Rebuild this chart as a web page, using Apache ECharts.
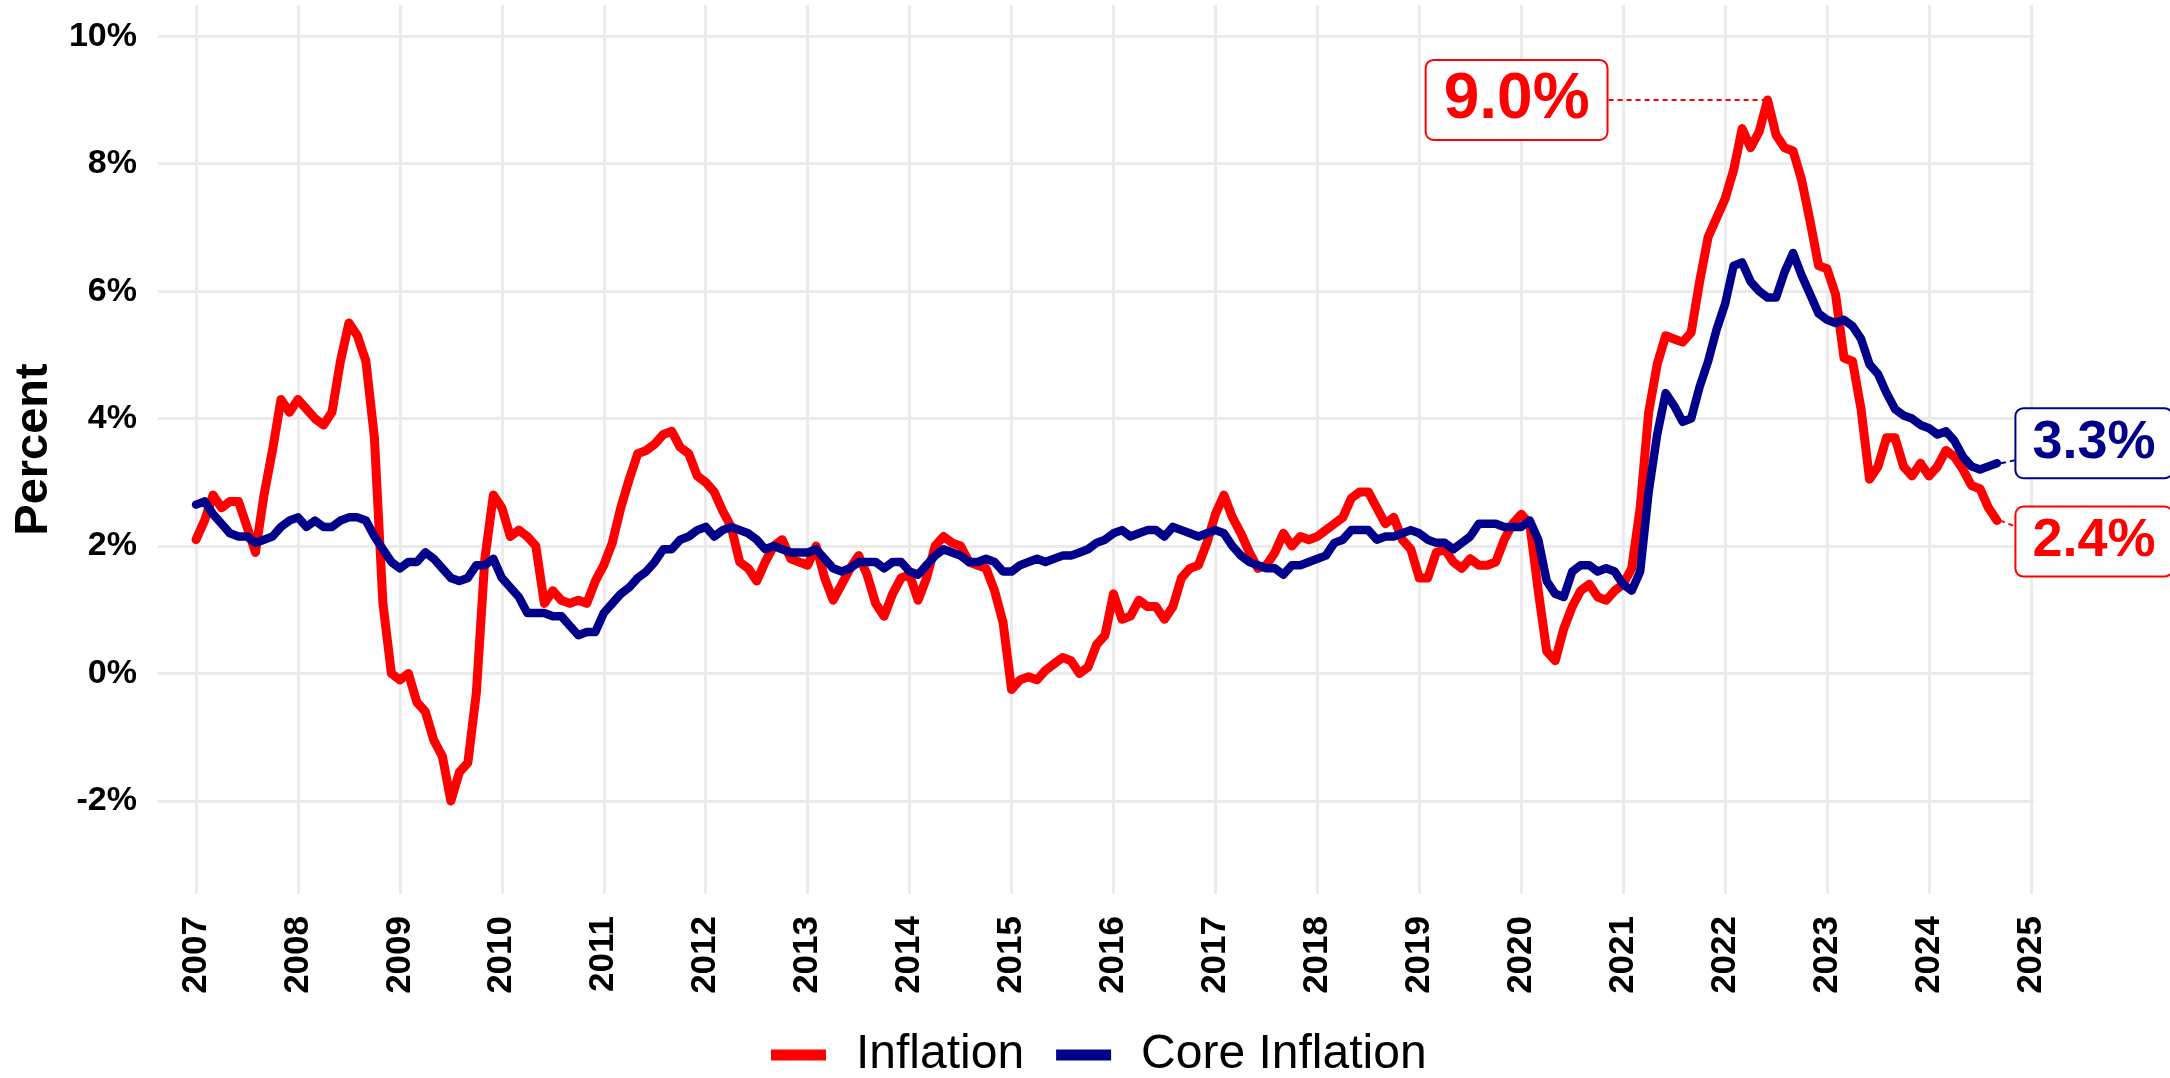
<!DOCTYPE html>
<html>
<head>
<meta charset="utf-8">
<script src="https://cdn.jsdelivr.net/npm/echarts@6/dist/echarts.min.js"></script>
<style>
  html, body { margin: 0; padding: 0; background: #fff; }
  #chart { width: 2170px; height: 1078px; }
</style>
</head>
<body>
<div id="chart"></div>
<script>
// monthly year-over-year rates, Jan 2007 .. Sep 2024
const startYear = 2007;

const inflation = [
  2.1, 2.4, 2.8, 2.6, 2.7, 2.7, 2.3, 1.9, 2.8, 3.5, 4.3, 4.1,
  4.3, 4.15, 4.0, 3.9, 4.1, 4.9, 5.5, 5.3, 4.9, 3.7, 1.1, 0.0,
  -0.1, 0.0, -0.45, -0.6, -1.05, -1.3, -2.0, -1.55, -1.4, -0.3, 1.8, 2.8,
  2.6, 2.15, 2.25, 2.15, 2.0, 1.1, 1.3, 1.15, 1.1, 1.15, 1.1, 1.45,
  1.7, 2.05, 2.6, 3.05, 3.45, 3.5, 3.6, 3.75, 3.8, 3.55, 3.45, 3.1,
  3.0, 2.85, 2.55, 2.3, 1.75, 1.65, 1.45, 1.75, 2.0, 2.1, 1.8, 1.75,
  1.7, 2.0, 1.5, 1.15, 1.4, 1.65, 1.85, 1.55, 1.1, 0.9, 1.25, 1.5,
  1.55, 1.15, 1.5, 2.0, 2.15, 2.05, 2.0, 1.75, 1.7, 1.65, 1.3, 0.8,
  -0.25, -0.1, -0.05, -0.1, 0.05, 0.15, 0.25, 0.2, 0.0, 0.1, 0.45, 0.6,
  1.25, 0.85, 0.9, 1.15, 1.05, 1.05, 0.85, 1.05, 1.5, 1.65, 1.7, 2.05,
  2.5, 2.8, 2.45, 2.2, 1.9, 1.65, 1.7, 1.9, 2.2, 2.0, 2.15, 2.1,
  2.15, 2.25, 2.35, 2.45, 2.75, 2.85, 2.85, 2.6, 2.35, 2.45, 2.1, 1.95,
  1.5, 1.5, 1.9, 1.95, 1.75, 1.65, 1.8, 1.7, 1.7, 1.75, 2.1, 2.35,
  2.5, 2.35, 1.3, 0.35, 0.2, 0.7, 1.05, 1.3, 1.4, 1.2, 1.15, 1.3,
  1.4, 1.65, 2.6, 4.1, 4.85, 5.3, 5.25, 5.2, 5.35, 6.15, 6.85, 7.15,
  7.45, 7.9, 8.55, 8.25, 8.5, 9.0, 8.45, 8.25, 8.2, 7.75, 7.1, 6.4,
  6.35, 5.95, 4.95, 4.9, 4.15, 3.05, 3.25, 3.7, 3.7, 3.25, 3.1, 3.3,
  3.1, 3.25, 3.5, 3.4, 3.2, 2.95, 2.9, 2.6, 2.4
];

const coreInflation = [
  2.65, 2.7, 2.5, 2.35, 2.2, 2.15, 2.15, 2.05, 2.1, 2.15, 2.3, 2.4,
  2.45, 2.3, 2.4, 2.3, 2.3, 2.4, 2.45, 2.45, 2.4, 2.15, 1.95, 1.75,
  1.65, 1.75, 1.75, 1.9, 1.8, 1.65, 1.5, 1.45, 1.5, 1.7, 1.7, 1.8,
  1.5, 1.35, 1.2, 0.95, 0.95, 0.95, 0.9, 0.9, 0.75, 0.6, 0.65, 0.65,
  0.95, 1.1, 1.25, 1.35, 1.5, 1.6, 1.75, 1.95, 1.95, 2.1, 2.15, 2.25,
  2.3, 2.15, 2.25, 2.3, 2.25, 2.2, 2.1, 1.95, 2.0, 1.95, 1.9, 1.9,
  1.9, 1.95, 1.8, 1.65, 1.6, 1.65, 1.75, 1.75, 1.75, 1.65, 1.75, 1.75,
  1.6, 1.55, 1.7, 1.85, 1.95, 1.9, 1.85, 1.75, 1.75, 1.8, 1.75, 1.6,
  1.6, 1.7, 1.75, 1.8, 1.75, 1.8, 1.85, 1.85, 1.9, 1.95, 2.05, 2.1,
  2.2, 2.25, 2.15, 2.2, 2.25, 2.25, 2.15, 2.3, 2.25, 2.2, 2.15, 2.2,
  2.25, 2.2, 2.0, 1.85, 1.75, 1.7, 1.65, 1.65, 1.55, 1.7, 1.7, 1.75,
  1.8, 1.85, 2.05, 2.1, 2.25, 2.25, 2.25, 2.1, 2.15, 2.15, 2.2, 2.25,
  2.2, 2.1, 2.05, 2.05, 1.95, 2.05, 2.15, 2.35, 2.35, 2.35, 2.3, 2.3,
  2.3, 2.4, 2.1, 1.45, 1.25, 1.2, 1.6, 1.7, 1.7, 1.6, 1.65, 1.6,
  1.4, 1.3, 1.6, 2.85, 3.75, 4.4, 4.2, 3.95, 4.0, 4.5, 4.9, 5.4,
  5.8, 6.4, 6.45, 6.15, 6.0, 5.9, 5.9, 6.3, 6.6, 6.25, 5.95, 5.65,
  5.55, 5.5, 5.55, 5.45, 5.25, 4.85, 4.7, 4.4, 4.15, 4.05, 4.0, 3.9,
  3.85, 3.75, 3.8, 3.65, 3.4, 3.25, 3.2, 3.25, 3.3
];

const yearTicks = [2007, 2008, 2009, 2010, 2011, 2012, 2013, 2014, 2015,
  2016, 2017, 2018, 2019, 2020, 2021, 2022, 2023, 2024, 2025];
const percentTicks = [-2, 0, 2, 4, 6, 8, 10];

const RED = '#FF0000';
const NAVY = '#00008B';
const FONT = '"Liberation Sans", Arial, sans-serif';

// x position of each month as a decimal year
const dates = inflation.map((_, i) => startYear + i / 12);

const peakIdx = inflation.indexOf(Math.max(...inflation));
const lastIdx = inflation.length - 1;

const dotted = color => ({ color: color, width: 2, type: [5, 4], opacity: 1 });

// boxed value label; leader is either the label guide line or a short
// dotted stub (gap, len in years, drop in %) drawn with markLine
function note(x, y, color, size, dx, dy, pad, stub) {
  const s = {
    type: 'scatter',
    data: [[x, y]],
    symbolSize: 2,
    itemStyle: { color: color, opacity: 1 },
    silent: true,
    z: 10,
    label: {
      show: true,
      position: 'inside',
      formatter: p => p.value[1].toFixed(1) + '%',
      color: color,
      fontFamily: FONT,
      fontWeight: 'bold',
      fontSize: size,
      lineHeight: size,
      backgroundColor: '#fff',
      borderColor: color,
      borderWidth: 2,
      borderRadius: 7,
      padding: pad
    },
    labelLayout: { dx: dx, dy: dy },
    labelLine: { show: !stub, lineStyle: dotted(color) }
  };
  if (stub) {
    s.markLine = {
      silent: true,
      symbol: ['none', 'none'],
      label: { show: false },
      lineStyle: dotted(color),
      data: [[
        { coord: [x + stub[0], y] },
        { coord: [x + stub[0] + stub[1], y - stub[2]] }
      ]]
    };
  }
  return s;
}

const chart = echarts.init(document.getElementById('chart'));

chart.setOption({
  animation: false,
  backgroundColor: '#fff',
  textStyle: { fontFamily: FONT },
  grid: { left: 158, right: 136, top: 5, bottom: 184 },
  legend: {
    data: ['Inflation', 'Core Inflation'],
    left: 771,
    top: 1031,
    padding: 0,
    icon: 'rect',
    itemWidth: 55,
    itemHeight: 11,
    itemGap: 32,
    textStyle: { fontSize: 48, color: '#000', fontFamily: FONT, padding: [0, 0, 0, 25] }
  },
  xAxis: {
    type: 'value',
    min: 2006.627,
    max: 2025.03,
    axisLine: { show: false },
    axisTick: { show: false, customValues: yearTicks },
    axisLabel: {
      customValues: yearTicks,
      rotate: 90,
      margin: 22,
      fontSize: 35,
      fontWeight: 'bold',
      color: '#000',
      formatter: v => String(v)
    },
    splitLine: { show: true, lineStyle: { color: '#EBEBEB', width: 3 } }
  },
  yAxis: {
    type: 'value',
    min: -3.46,
    max: 10.49,
    name: 'Percent',
    nameLocation: 'middle',
    nameGap: 100,
    nameTextStyle: { fontSize: 47, fontWeight: 'bold', color: '#000' },
    axisLine: { show: false },
    axisTick: { show: false, customValues: percentTicks },
    axisLabel: {
      customValues: percentTicks,
      margin: 21,
      fontSize: 34,
      fontWeight: 'bold',
      color: '#000',
      formatter: v => v + '%'
    },
    splitLine: { show: true, lineStyle: { color: '#EBEBEB', width: 3 } }
  },
  series: [
    {
      name: 'Inflation',
      type: 'line',
      data: dates.map((x, i) => [x, inflation[i]]),
      showSymbol: false,
      color: RED,
      lineStyle: { color: RED, width: 9, cap: 'round', join: 'round' },
      z: 3
    },
    {
      name: 'Core Inflation',
      type: 'line',
      data: dates.map((x, i) => [x, coreInflation[i]]),
      showSymbol: false,
      color: NAVY,
      lineStyle: { color: NAVY, width: 8.5, cap: 'round', join: 'round' },
      z: 4
    },
    note(dates[peakIdx], inflation[peakIdx], RED, 64, -251, 0, [7, 17]),
    note(dates[lastIdx], coreInflation[lastIdx], NAVY, 54, 97, -20, [7, 16], [0.04, 0.15, -0.05]),
    note(dates[lastIdx], inflation[lastIdx], RED, 54, 97, 21, [7, 16], [0.03, 0.16, 0.1])
  ]
});
</script>
</body>
</html>
